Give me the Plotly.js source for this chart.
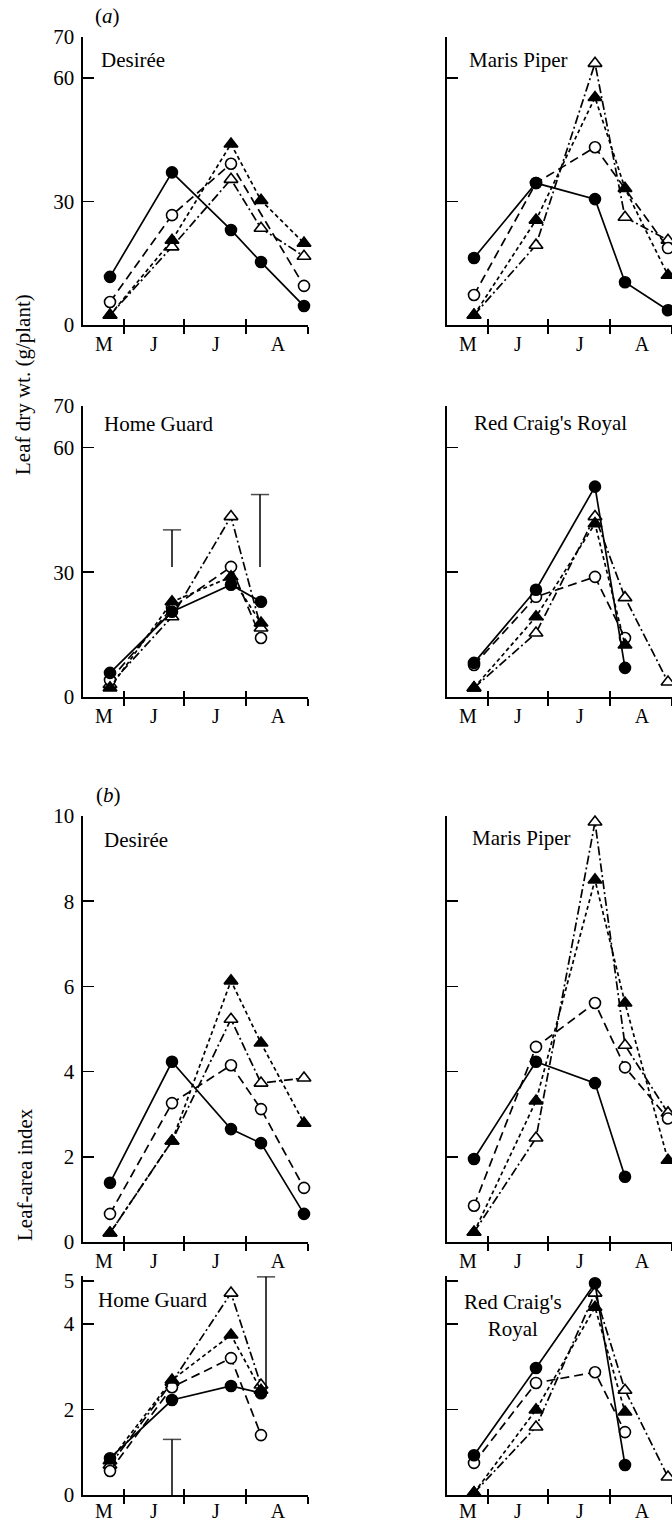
<!DOCTYPE html>
<html>
<head>
<meta charset="utf-8">
<script src="https://cdn.plot.ly/plotly-3.0.1.min.js"></script>
<style>html,body{margin:0;padding:0;background:#fff;}#chart{width:672px;height:1524px;}</style>
</head>
<body>
<div id="chart"></div>
<script>
// ---- data ----
// sampling dates (day of year)
const dates = [144, 175, 204.5, 219.5, 241];
const monthLabels = ['M', 'J', 'J', 'A'];
const monthLabelPos = [141, 166, 197, 228];
const monthBounds = [151, 181, 212, 243];
const panelNames = ['Desirée', 'Maris Piper', 'Home Guard', "Red Craig's Royal",
                    'Desirée', 'Maris Piper', 'Home Guard', "Red Craig's<br>Royal"];

// (a) leaf dry weight, g/plant
const desA_fill = [11.7, 37.1, 23.1, 15.3, 4.6];
const desA_open = [5.6, 26.7, 39.2, null, 9.5];
const desA_tri = [2.4, 20.6, 44.0, 30.3, 19.9];
const desA_otri = [2.4, 19.0, 35.4, 23.5, 16.7];

const mpA_fill = [16.3, 34.5, 30.6, 10.4, 3.6];
const mpA_open = [7.3, 34.5, 43.2, null, 18.7];
const mpA_tri = [2.4, 25.5, 55.3, 33.2, 12.1];
const mpA_otri = [2.4, 19.4, 63.6, 26.2, 20.6];

const hgA_fill = [5.8, 20.5, 27.0, 22.9, null];
const hgA_open = [4.1, 21.4, 31.3, 14.2, null];
const hgA_tri = [2.2, 22.9, 28.9, 17.8, null];
const hgA_otri = [3.0, 19.3, 43.4, 16.6, null];

const rcA_fill = [8.2, 25.8, 50.6, 7.0, null];
const rcA_open = [7.7, 24.1, 28.9, 14.2, null];
const rcA_tri = [2.2, 19.3, 41.7, 12.5, null];
const rcA_otri = [2.2, 15.4, 43.4, 23.9, 3.6];

// (b) leaf-area index
const desB_fill = [1.39, 4.23, 2.65, 2.32, 0.66];
const desB_open = [0.66, 3.26, 4.15, 3.12, 1.27];
const desB_tri = [0.21, 2.37, 6.13, 4.67, 2.79];
const desB_otri = [0.21, 2.37, 5.23, 3.73, 3.85];

const mpB_fill = [1.95, 4.23, 3.73, 1.53, null];
const mpB_open = [0.85, 4.58, 5.61, 4.10, 2.90];
const mpB_tri = [0.23, 3.31, 8.50, 5.61, 1.92];
const mpB_otri = [0.23, 2.44, 9.86, 4.62, 3.03];

const hgB_fill = [0.86, 2.22, 2.55, 2.38, null];
const hgB_open = [0.56, 2.52, 3.20, 1.40, null];
const hgB_tri = [0.80, 2.69, 3.74, 2.45, null];
const hgB_otri = [0.70, 2.64, 4.72, 2.57, null];

const rcB_fill = [0.93, 2.97, 4.95, 0.70, null];
const rcB_open = [0.75, 2.62, 2.87, 1.47, null];
const rcB_tri = [0.05, 1.99, 4.39, 1.94, null];
const rcB_otri = [0.05, 1.59, 4.72, 2.45, 0.42];

// LSD bars (Home Guard panels)
const lsdA_x = [175, 219];
const lsdA_base = [31.3, 31.3];
const lsdA_top = [40.2, 48.7];
const lsdB_x = [175, 222];
const lsdB_base = [0, 2.4];
const lsdB_top = [1.3, 5.1];

const yTicksA = [0, 30, 60, 70];
const yTicksB1 = [0, 2, 4, 6, 8, 10];
const yTicksB2 = [0, 2, 4, 5];

// ---- build ----
const panels = [
  [desA_fill, desA_open, desA_tri, desA_otri],
  [mpA_fill, mpA_open, mpA_tri, mpA_otri],
  [hgA_fill, hgA_open, hgA_tri, hgA_otri],
  [rcA_fill, rcA_open, rcA_tri, rcA_otri],
  [desB_fill, desB_open, desB_tri, desB_otri],
  [mpB_fill, mpB_open, mpB_tri, mpB_otri],
  [hgB_fill, hgB_open, hgB_tri, hgB_otri],
  [rcB_fill, rcB_open, rcB_tri, rcB_otri]
];

const styles = [
  {symbol: 'circle', fill: '#000', dash: 'solid'},
  {symbol: 'circle', fill: '#fff', dash: '9px,5px'},
  {symbol: 'triangle-up', fill: '#000', dash: '4px,3px'},
  {symbol: 'triangle-up', fill: '#fff', dash: '9px,3px,2px,3px'}
];

const traces = [];
panels.forEach((series, p) => {
  const ax = p === 0 ? '' : String(p + 1);
  [3, 1, 2, 0].forEach(s => {
    const st = styles[s];
    traces.push({
      type: 'scatter', mode: 'lines+markers',
      x: dates, y: series[s], connectgaps: true,
      xaxis: 'x' + ax, yaxis: 'y' + ax,
      cliponaxis: false, showlegend: false, hoverinfo: 'skip',
      line: {color: '#000', width: 1.7, dash: st.dash},
      marker: {symbol: st.symbol, color: st.fill, size: st.symbol === 'circle' ? 11 : 12,
               line: {color: '#000', width: 1.6}}
    });
  });
});

function lsdTrace(xs, base, top, ax) {
  const x = [], y = [], sz = [];
  xs.forEach((v, i) => { x.push(v, v, null); y.push(base[i], top[i], null); sz.push(0, 13, 0); });
  return {type: 'scatter', mode: 'lines+markers', x: x, y: y, xaxis: 'x' + ax, yaxis: 'y' + ax,
    cliponaxis: false, showlegend: false, hoverinfo: 'skip', connectgaps: false,
    line: {color: '#000', width: 1.5},
    marker: {symbol: 'line-ew-open', size: sz, line: {color: '#000', width: 1.5}, color: '#000'}};
}
traces.push(lsdTrace(lsdA_x, lsdA_base, lsdA_top, '3'));
traces.push(lsdTrace(lsdB_x, lsdB_base, lsdB_top, '7'));

const H = 1524, W = 672;
const fam = '"Liberation Serif", "Times New Roman", serif';
const font = {family: fam, size: 21, color: '#000'};
const xDomL = [83 / W, 308 / W], xDomR = [447 / W, 1];
// rows: [bottom px, top px, yrange, ticks, month label standoff]
const rows = [
  [325, 37, [0, 70], yTicksA, 5],
  [697, 406, [0, 70], yTicksA, 5],
  [1242, 816, [0, 10], yTicksB1, 5],
  [1495, 1276, [0, 5.12], yTicksB2, 2]
];

const layout = {
  width: W, height: H, margin: {l: 0, r: 0, t: 0, b: 0},
  paper_bgcolor: '#fff', plot_bgcolor: 'rgba(0,0,0,0)',
  font: font, showlegend: false, annotations: []
};

for (let p = 0; p < 8; p++) {
  const ax = p === 0 ? '' : String(p + 1);
  const row = rows[Math.floor(p / 2)];
  const left = p % 2 === 0;
  const dom = left ? xDomL : xDomR;
  // main x axis: month boundary ticks (outside)
  layout['xaxis' + ax] = {
    domain: dom, anchor: 'y' + ax,
    range: [130.5, 243], showgrid: false, zeroline: false,
    showline: true, linecolor: '#000', linewidth: 1.6,
    tickmode: 'array', tickvals: monthBounds, ticks: 'outside', ticklen: 7,
    tickcolor: '#000', tickwidth: 1.6, showticklabels: false, fixedrange: true
  };
  // overlay: inside half of the boundary ticks
  const axIn = String(9 + p), axLab = String(17 + p);
  layout['xaxis' + axIn] = {
    domain: dom, anchor: 'y' + ax, overlaying: 'x' + ax,
    range: [130.5, 243], showgrid: false, zeroline: false, showline: false,
    tickmode: 'array', tickvals: monthBounds, ticks: 'inside', ticklen: 6,
    tickcolor: '#000', tickwidth: 1.6, showticklabels: false, fixedrange: true
  };
  // overlay: month letters
  layout['xaxis' + axLab] = {
    domain: dom, anchor: 'y' + ax, overlaying: 'x' + ax,
    range: [130.5, 243], showgrid: false, zeroline: false, showline: false,
    tickmode: 'array', tickvals: monthLabelPos, ticktext: monthLabels, ticks: '', ticklen: 0,
    ticklabelstandoff: row[4], tickfont: {family: fam, size: 20, color: '#000'}, fixedrange: true
  };
  [axIn, axLab].forEach(a => traces.push({type: 'scatter', mode: 'none', x: monthBounds,
    y: [null, null, null, null], xaxis: 'x' + a, yaxis: 'y' + ax, showlegend: false, hoverinfo: 'skip'}));
  layout['yaxis' + ax] = {
    domain: [1 - row[0] / H, 1 - row[1] / H], anchor: 'x' + ax,
    range: row[2], showgrid: false, zeroline: false,
    showline: true, linecolor: '#000', linewidth: 1.6,
    tickmode: 'array', tickvals: row[3], ticks: 'inside', ticklen: 11,
    tickcolor: '#000', tickwidth: 1.6,
    showticklabels: left, tickfont: font, ticklabelstandoff: 3, fixedrange: true
  };
}

// panel titles
const titlePos = [
  [99, 60, 'left'], [467, 60, 'left'], [102, 424, 'left'], [472, 423, 'left'],
  [102, 840, 'left'], [470, 838, 'left'], [96, 1300, 'left'], [513, 1315, 'center']
];
titlePos.forEach((t, i) => {
  layout.annotations.push({
    xref: 'paper', yref: 'paper', x: t[0] / W, y: 1 - t[1] / H,
    xanchor: t[2], yanchor: 'middle', text: panelNames[i], showarrow: false,
    font: {family: fam, size: 21, color: '#000'}
  });
});
layout.annotations.push(
  {xref: 'paper', yref: 'paper', x: 107 / W, y: 1 - 16 / H, xanchor: 'center', yanchor: 'middle',
   text: '(<i>a</i>)', showarrow: false, font: {family: fam, size: 21}},
  {xref: 'paper', yref: 'paper', x: 108 / W, y: 1 - 795 / H, xanchor: 'center', yanchor: 'middle',
   text: '(<i>b</i>)', showarrow: false, font: {family: fam, size: 21}},
  {xref: 'paper', yref: 'paper', x: 23 / W, y: 1 - 385 / H, xanchor: 'center', yanchor: 'middle',
   text: 'Leaf dry wt. (g/plant)', textangle: -90, showarrow: false, font: {family: fam, size: 21}},
  {xref: 'paper', yref: 'paper', x: 25 / W, y: 1 - 1175 / H, xanchor: 'center', yanchor: 'middle',
   text: 'Leaf-area index', textangle: -90, showarrow: false, font: {family: fam, size: 21}}
);

Plotly.newPlot('chart', traces, layout, {staticPlot: true, displayModeBar: false});
</script>
</body>
</html>
